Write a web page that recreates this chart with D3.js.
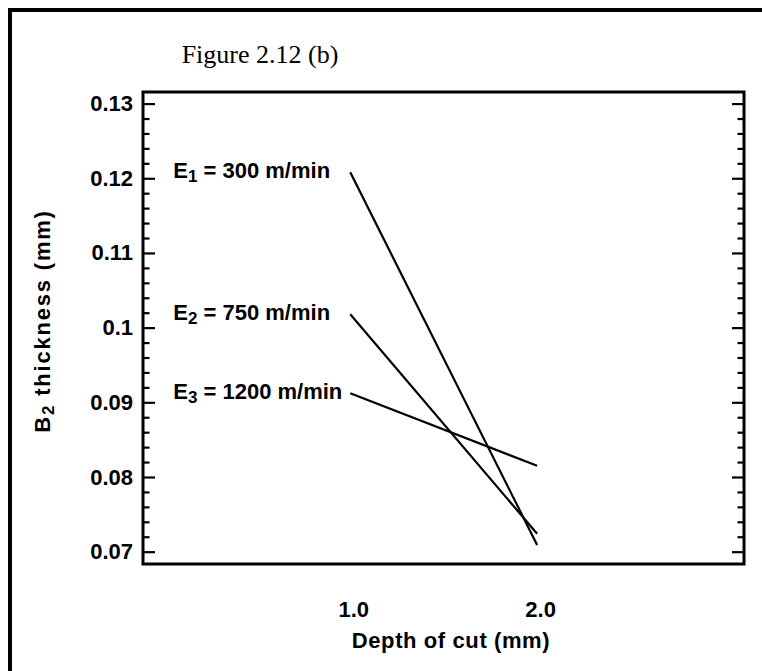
<!DOCTYPE html>
<html>
<head>
<meta charset="utf-8">
<script src="https://cdn.jsdelivr.net/npm/d3@7"></script>
<style>
  html, body { margin: 0; padding: 0; background: #fff; }
  svg { display: block; }
</style>
</head>
<body>
<svg id="chart" width="762" height="671"></svg>
<script>
// ---- data ----
const depths = [1.0, 2.0];
const seriesNames = ["E", "E", "E"];
const seriesSubs = ["1", "2", "3"];
const seriesSpeeds = ["300 m/min", "750 m/min", "1200 m/min"];
const e1Values = [0.1208, 0.0709];
const e2Values = [0.1018, 0.0724];
const e3Values = [0.0912, 0.0815];
const yTicks = [0.07, 0.08, 0.09, 0.1, 0.11, 0.12, 0.13];
const yTickLabels = ["0.07", "0.08", "0.09", "0.1", "0.11", "0.12", "0.13"];
const xTickLabels = ["1.0", "2.0"];
const titleText = "Figure 2.12 (b)";
const xTitle = "Depth of cut (mm)";
const yTitleMain = "B";
const yTitleSub = "2";
const yTitleRest = " thickness (mm)";

const allValues = [e1Values, e2Values, e3Values];

// ---- layout ----
const svg = d3.select("#chart");
const pLeft = 143, pRight = 744, pTop = 92, pBottom = 564;
const SANS = "'Liberation Sans', Arial, sans-serif";

const x = d3.scaleLinear().domain([-0.109, 3.107]).range([pLeft, pRight]);
const y = d3.scaleLinear().domain([0.06835, 0.13155]).range([pBottom, pTop]);

// outer frame (top and left edges)
svg.append("path")
  .attr("d", `M10,671 L10,10 L762,10`)
  .attr("fill", "none").attr("stroke", "#000").attr("stroke-width", 4);

// title
svg.append("text")
  .attr("x", 260).attr("y", 63)
  .attr("text-anchor", "middle")
  .attr("font-family", "'Liberation Serif', 'Times New Roman', serif")
  .attr("font-size", 26)
  .text(titleText);

const minorTicks = d3.range(0, 31).map(i => +(0.07 + i * 0.002).toFixed(3))
  .filter(v => !yTicks.some(t => Math.abs(t - v) < 1e-9));

// left axis
const gL = svg.append("g").attr("transform", `translate(${pLeft},0)`);
gL.call(d3.axisLeft(y).tickValues(minorTicks).tickSize(-6.5).tickFormat(""));
gL.select(".domain").remove();
const gL2 = svg.append("g").attr("transform", `translate(${pLeft},0)`);
gL2.call(d3.axisLeft(y).tickValues(yTicks).tickSize(-12).tickPadding(10)
  .tickFormat((d, i) => yTickLabels[i]));
gL2.select(".domain").remove();

// right axis
const gR = svg.append("g").attr("transform", `translate(${pRight},0)`);
gR.call(d3.axisRight(y).tickValues(minorTicks).tickSize(-6.5).tickFormat(""));
gR.select(".domain").remove();
const gR2 = svg.append("g").attr("transform", `translate(${pRight},0)`);
gR2.call(d3.axisRight(y).tickValues(yTicks).tickSize(-12).tickFormat(""));
gR2.select(".domain").remove();

// bottom axis labels
const gB = svg.append("g").attr("transform", `translate(3,${pBottom})`);
gB.call(d3.axisBottom(x).tickValues(depths).tickSize(0).tickPadding(37)
  .tickFormat((d, i) => xTickLabels[i]));
gB.select(".domain").remove();

svg.selectAll(".tick line").attr("stroke", "#000").attr("stroke-width", 2.2);
svg.selectAll(".tick text")
  .attr("font-family", SANS)
  .attr("font-weight", "bold").attr("font-size", 22).attr("fill", "#000");

// plot frame
svg.append("rect")
  .attr("x", pLeft).attr("y", pTop)
  .attr("width", pRight - pLeft).attr("height", pBottom - pTop)
  .attr("fill", "none").attr("stroke", "#000").attr("stroke-width", 3);

// lines
const line = d3.line().x((d, i) => x(depths[i])).y(d => y(d));
allValues.forEach(vals => {
  svg.append("path").datum(vals)
    .attr("d", line)
    .attr("fill", "none").attr("stroke", "#000").attr("stroke-width", 2.2);
});

// series labels
allValues.forEach((vals, i) => {
  const t = svg.append("text")
    .attr("x", x(depths[0]) - 177)
    .attr("y", y(vals[0]) + 6)
    .attr("font-family", SANS)
    .attr("font-weight", "bold").attr("font-size", 22);
  t.append("tspan").text(seriesNames[i]);
  t.append("tspan").attr("font-size", 17).attr("dy", 4).text(seriesSubs[i]);
  t.append("tspan").attr("dy", -4).text(" = " + seriesSpeeds[i]);
});

// axis titles
svg.append("text")
  .attr("x", 451).attr("y", 648)
  .attr("text-anchor", "middle")
  .attr("font-family", SANS)
  .attr("font-weight", "bold").attr("font-size", 22)
  .attr("letter-spacing", 0.6)
  .text(xTitle);

const yt = svg.append("text")
  .attr("transform", "translate(50,321) rotate(-90)")
  .attr("text-anchor", "middle")
  .attr("font-family", SANS)
  .attr("font-weight", "bold").attr("font-size", 22)
  .attr("letter-spacing", 1.8);
yt.append("tspan").text(yTitleMain);
yt.append("tspan").attr("font-size", 17).attr("dy", 4).text(yTitleSub);
yt.append("tspan").attr("dy", -4).text(yTitleRest);
</script>
</body>
</html>
